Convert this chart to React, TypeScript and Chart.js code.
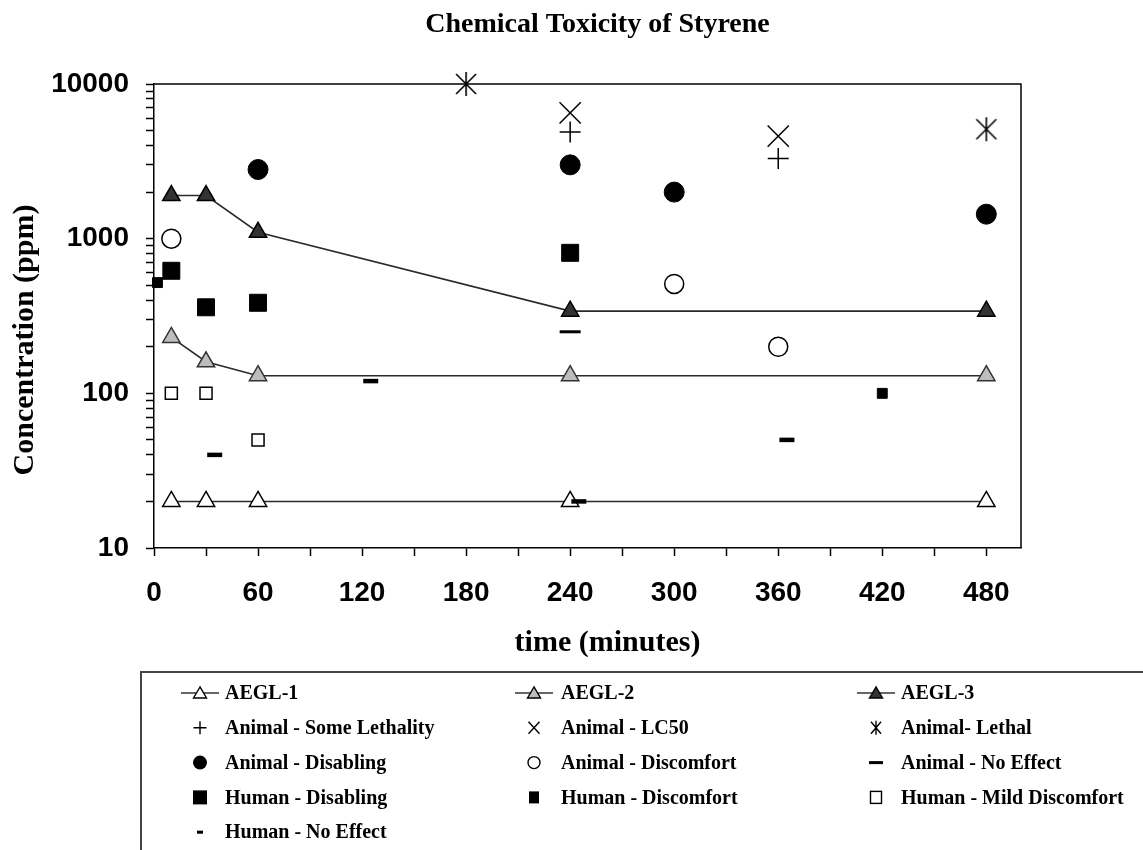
import React, { useEffect, useRef } from "react";
import { Chart, registerables } from "chart.js";

Chart.register(...registerables);

// ---------- text ----------
const chartTitle = "Chemical Toxicity of Styrene";
const xAxisTitle = "time (minutes)";
const yAxisTitle = "Concentration (ppm)";

// ---------- axes ----------
const xMin = 0;
const xMax = 500;
const xTickValues = [0, 30, 60, 90, 120, 150, 180, 210, 240, 270, 300, 330, 360, 390, 420, 450, 480];
const xLabelStep = 60;
const yMin = 10;
const yMax = 10000;
const yMajorTicks = [10, 100, 1000, 10000];
const yMinorMultipliers = [2, 3, 4, 5, 6, 7, 8, 9];

// ---------- data ----------
const aeglTimes = [10, 30, 60, 240, 480];
const aegl1 = [20, 20, 20, 20, 20];
const aegl2 = [230, 160, 130, 130, 130];
const aegl3 = [1900, 1900, 1100, 340, 340];

const someLethalityTimes = [240, 360];
const someLethality = [4900, 3300];

const lc50Times = [240, 360];
const lc50 = [6500, 4600];

const lethalTimes = [180, 480];
const lethal = [10000, 5100];

const animalDisablingTimes = [60, 240, 300, 480];
const animalDisabling = [2800, 3000, 2000, 1440];

const animalDiscomfortTimes = [10, 300, 360];
const animalDiscomfort = [1000, 510, 200];

const animalNoEffectTimes = [240];
const animalNoEffect = [250];

const humanDisablingTimes = [10, 30, 60, 240];
const humanDisabling = [620, 360, 385, 810];

const humanDiscomfortTimes = [2, 420];
const humanDiscomfort = [520, 100];

const humanMildTimes = [10, 30, 60];
const humanMild = [100, 100, 50];

const humanNoEffectTimes = [35, 125, 245, 365];
const humanNoEffect = [40, 120, 20, 50];

// legend order (3 columns, row by row)
const legendLabels = [
  "AEGL-1", "AEGL-2", "AEGL-3",
  "Animal - Some Lethality", "Animal - LC50", "Animal- Lethal",
  "Animal - Disabling", "Animal - Discomfort", "Animal - No Effect",
  "Human - Disabling", "Human - Discomfort", "Human - Mild Discomfort",
  "Human - No Effect",
];
const legendKinds = [
  "aegl1", "aegl2", "aegl3",
  "plus", "x", "asterisk",
  "dot", "ring", "longdash",
  "bigsq", "smallsq", "opensq",
  "shortdash",
];

const SERIF = '"Liberation Serif", "Times New Roman", Times, serif';
const SANS = '"Liberation Sans", Arial, Helvetica, sans-serif';

const pts = (xs: number[], ys: number[]) => xs.map((x, i) => ({ x, y: ys[i] }));

function makeAsterisk(): HTMLCanvasElement {
  const c = document.createElement("canvas");
  c.width = 24;
  c.height = 26;
  const g = c.getContext("2d")!;
  g.strokeStyle = "#000";
  g.lineWidth = 1.6;
  g.beginPath();
  g.moveTo(2, 3); g.lineTo(22, 23);
  g.moveTo(22, 3); g.lineTo(2, 23);
  g.moveTo(12, 1); g.lineTo(12, 25);
  g.stroke();
  return c;
}

function drawLegendSymbol(ctx: CanvasRenderingContext2D, kind: string, cx: number, cy: number) {
  ctx.save();
  ctx.strokeStyle = "#000";
  ctx.fillStyle = "#000";
  ctx.lineWidth = 1.4;
  const tri = (fill: string) => {
    ctx.strokeStyle = "#333";
    ctx.lineWidth = 1.4;
    ctx.beginPath();
    ctx.moveTo(cx - 19, cy); ctx.lineTo(cx + 19, cy);
    ctx.stroke();
    ctx.beginPath();
    ctx.moveTo(cx, cy - 6);
    ctx.lineTo(cx - 6.5, cy + 5);
    ctx.lineTo(cx + 6.5, cy + 5);
    ctx.closePath();
    ctx.fillStyle = fill;
    ctx.fill();
    ctx.strokeStyle = "#000";
    ctx.stroke();
  };
  switch (kind) {
    case "aegl1": tri("#ffffff"); break;
    case "aegl2": tri("#bdbdbd"); break;
    case "aegl3": tri("#333333"); break;
    case "plus":
      ctx.beginPath();
      ctx.moveTo(cx - 6.5, cy); ctx.lineTo(cx + 6.5, cy);
      ctx.moveTo(cx, cy - 6.5); ctx.lineTo(cx, cy + 6.5);
      ctx.stroke();
      break;
    case "x":
      ctx.beginPath();
      ctx.moveTo(cx - 5.5, cy - 6); ctx.lineTo(cx + 5.5, cy + 6);
      ctx.moveTo(cx + 5.5, cy - 6); ctx.lineTo(cx - 5.5, cy + 6);
      ctx.stroke();
      break;
    case "asterisk":
      ctx.beginPath();
      ctx.moveTo(cx - 5, cy - 6); ctx.lineTo(cx + 5, cy + 6);
      ctx.moveTo(cx + 5, cy - 6); ctx.lineTo(cx - 5, cy + 6);
      ctx.moveTo(cx, cy - 7); ctx.lineTo(cx, cy + 7);
      ctx.stroke();
      break;
    case "dot":
      ctx.beginPath(); ctx.arc(cx, cy, 7, 0, Math.PI * 2); ctx.fill();
      break;
    case "ring":
      ctx.beginPath(); ctx.arc(cx, cy, 6, 0, Math.PI * 2); ctx.stroke();
      break;
    case "longdash":
      ctx.fillRect(cx - 7, cy - 1.5, 14, 3);
      break;
    case "bigsq":
      ctx.fillRect(cx - 7, cy - 7, 14, 14);
      break;
    case "smallsq":
      ctx.fillRect(cx - 5, cy - 6, 10, 12);
      break;
    case "opensq":
      ctx.strokeRect(cx - 5.5, cy - 6, 11, 12);
      break;
    case "shortdash":
      ctx.fillRect(cx - 3, cy - 1.5, 6, 3);
      break;
  }
  ctx.restore();
}

const decorPlugin = {
  id: "decor",
  beforeDatasetsDraw(chart: any) {
    const { ctx, chartArea: a } = chart;
    ctx.save();
    ctx.strokeStyle = "#000";
    ctx.lineWidth = 1.5;
    ctx.beginPath();
    ctx.moveTo(a.left, a.top);
    ctx.lineTo(a.right, a.top);
    ctx.lineTo(a.right, a.bottom);
    ctx.stroke();
    ctx.restore();
  },
  afterDraw(chart: any) {
    const { ctx, chartArea: a } = chart;
    ctx.save();
    ctx.fillStyle = "#000";
    // title
    ctx.font = `bold 28px ${SERIF}`;
    ctx.textAlign = "center";
    ctx.textBaseline = "alphabetic";
    ctx.fillText(chartTitle, (a.left + a.right) / 2 + 10, 32);
    // x title
    ctx.font = `bold 30px ${SERIF}`;
    ctx.textBaseline = "middle";
    ctx.fillText(xAxisTitle, (a.left + a.right) / 2 + 20, a.bottom + 95);
    // y title
    ctx.save();
    ctx.translate(25, (a.top + a.bottom) / 2 + 24);
    ctx.rotate(-Math.PI / 2);
    ctx.fillText(yAxisTitle, 0, 0);
    ctx.restore();

    // legend box
    ctx.strokeStyle = "#444";
    ctx.lineWidth = 2;
    ctx.beginPath();
    ctx.moveTo(141, 850);
    ctx.lineTo(141, 672);
    ctx.lineTo(1143, 672);
    ctx.stroke();

    const symX = [200, 534, 876];
    const textX = [225, 561, 901];
    const rowY0 = 693;
    const rowStep = 34.8;
    ctx.font = `bold 20px ${SERIF}`;
    ctx.textAlign = "left";
    ctx.textBaseline = "middle";
    legendLabels.forEach((label, i) => {
      const col = i % 3;
      const row = Math.floor(i / 3);
      const y = rowY0 + row * rowStep;
      drawLegendSymbol(ctx, legendKinds[i], symX[col], y);
      ctx.fillStyle = "#000";
      ctx.fillText(label, textX[col], y + 1);
    });
    ctx.restore();
  },
};

export default function App() {
  const ref = useRef<HTMLCanvasElement | null>(null);

  useEffect(() => {
    document.body.style.margin = "0";
    const canvas = ref.current!;
    const asterisk = makeAsterisk();

    const yTickValues: number[] = [];
    yMajorTicks.forEach((m, i) => {
      yTickValues.push(m);
      if (i < yMajorTicks.length - 1) yMinorMultipliers.forEach((k) => yTickValues.push(m * k));
    });

    const lineBase = { showLine: true, borderColor: "#2a2a2a", borderWidth: 1.6, pointStyle: "triangle", pointRadius: 10, pointBorderWidth: 1.5, pointBorderColor: "#000", clip: false, order: 2, tension: 0 };
    const mark = { showLine: false, clip: false, order: 1 };

    const chart = new Chart(canvas, {
      type: "scatter",
      data: {
        datasets: [
          { ...lineBase, label: "AEGL-1", data: pts(aeglTimes, aegl1), pointBackgroundColor: "#ffffff" },
          { ...lineBase, label: "AEGL-2", data: pts(aeglTimes, aegl2), pointBackgroundColor: "#bdbdbd", pointBorderColor: "#333" },
          { ...lineBase, label: "AEGL-3", data: pts(aeglTimes, aegl3), pointBackgroundColor: "#333333" },
          { ...mark, label: "Animal - Some Lethality", data: pts(someLethalityTimes, someLethality), pointStyle: "cross", pointRadius: 10.5, pointBorderWidth: 1.5, pointBorderColor: "#000", pointBackgroundColor: "#000" },
          { ...mark, label: "Animal - LC50", data: pts(lc50Times, lc50), pointStyle: "crossRot", pointRadius: 15, pointBorderWidth: 1.5, pointBorderColor: "#000", pointBackgroundColor: "#000" },
          { ...mark, label: "Animal- Lethal", data: pts(lethalTimes, lethal), pointStyle: asterisk as any, pointRadius: 12 },
          { ...mark, label: "Animal - Disabling", data: pts(animalDisablingTimes, animalDisabling), pointStyle: "circle", pointRadius: 10, pointBorderWidth: 1, pointBorderColor: "#000", pointBackgroundColor: "#000" },
          { ...mark, label: "Animal - Discomfort", data: pts(animalDiscomfortTimes, animalDiscomfort), pointStyle: "circle", pointRadius: 9.5, pointBorderWidth: 1.5, pointBorderColor: "#000", pointBackgroundColor: "#fff" },
          { ...mark, label: "Animal - No Effect", data: pts(animalNoEffectTimes, animalNoEffect), pointStyle: "line", pointRadius: 10.5, pointBorderWidth: 3, pointBorderColor: "#000" },
          { ...mark, label: "Human - Disabling", data: pts(humanDisablingTimes, humanDisabling), pointStyle: "rect", pointRadius: 12, pointBorderWidth: 1, pointBorderColor: "#000", pointBackgroundColor: "#000" },
          { ...mark, label: "Human - Discomfort", data: pts(humanDiscomfortTimes, humanDiscomfort), pointStyle: "rect", pointRadius: 7, pointBorderWidth: 1, pointBorderColor: "#000", pointBackgroundColor: "#000" },
          { ...mark, label: "Human - Mild Discomfort", data: pts(humanMildTimes, humanMild), pointStyle: "rect", pointRadius: 8.5, pointBorderWidth: 1.5, pointBorderColor: "#000", pointBackgroundColor: "#fff" },
          { ...mark, label: "Human - No Effect", data: pts(humanNoEffectTimes, humanNoEffect), pointStyle: "line", pointRadius: 7.5, pointBorderWidth: 4.5, pointBorderColor: "#000" },
        ],
      },
      options: {
        responsive: false,
        animation: false,
        devicePixelRatio: 1,
        events: [],
        layout: { padding: { left: 0, top: 84, right: 122, bottom: 242 } },
        plugins: { legend: { display: false }, title: { display: false }, tooltip: { enabled: false } },
        scales: {
          x: {
            type: "linear",
            min: xMin,
            max: xMax,
            afterBuildTicks: (s: any) => { s.ticks = xTickValues.map((v) => ({ value: v })); },
            afterFit: (s: any) => { s.height = 60; },
            grid: { drawOnChartArea: false, drawTicks: true, tickLength: 8, color: "#000", tickWidth: 1.5 },
            border: { display: true, color: "#000", width: 1.5 },
            ticks: {
              autoSkip: false,
              maxRotation: 0,
              padding: 20,
              color: "#000",
              font: { family: SANS, size: 28, weight: "bold" },
              callback: (v: any) => (Number(v) % xLabelStep === 0 ? String(v) : ""),
            },
          },
          y: {
            type: "logarithmic",
            min: yMin,
            max: yMax,
            afterBuildTicks: (s: any) => { s.ticks = yTickValues.map((v) => ({ value: v })); },
            afterFit: (s: any) => { s.width = 154; },
            grid: { drawOnChartArea: false, drawTicks: true, tickLength: 8, color: "#000", tickWidth: 1.5 },
            border: { display: true, color: "#000", width: 1.5 },
            ticks: {
              autoSkip: false,
              padding: 17,
              color: "#000",
              font: { family: SANS, size: 28, weight: "bold" },
              callback: (v: any) => (yMajorTicks.includes(Number(v)) ? String(v) : ""),
            },
          },
        },
      },
      plugins: [decorPlugin],
    } as any);

    return () => chart.destroy();
  }, []);

  return (
    <div style={{ width: 1143, height: 850, background: "#fff" }}>
      <canvas ref={ref} width={1143} height={850} style={{ display: "block" }} />
    </div>
  );
}
